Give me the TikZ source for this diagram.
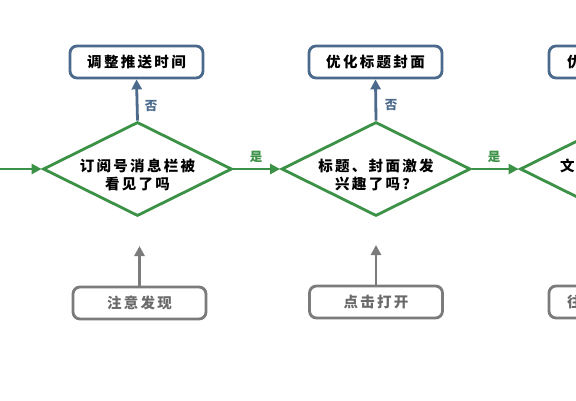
\documentclass[tikz,border=0pt]{standalone}
\usepackage{fontspec}
\newfontfamily\cjk{Noto Sans CJK SC}[LetterSpace=16]
\newfontfamily\cjklab{Noto Sans CJK SC}
\usetikzlibrary{shapes.geometric,arrows.meta}
\definecolor{bluec}{HTML}{4B6A8C}
\definecolor{greenc}{HTML}{3B9145}
\definecolor{grayc}{HTML}{7B7B7B}
\definecolor{graytext}{HTML}{6A6A6A}
\begin{document}
\begin{tikzpicture}[x=1pt,y=-1pt,
  topbox/.style={draw=bluec,line width=2.8pt,rounded corners=7pt,minimum width=133pt,minimum height=32pt,inner sep=0pt,font=\cjk\bfseries\fontsize{14.5}{17}\selectfont,text=black},
  botbox/.style={draw=grayc,line width=2.8pt,rounded corners=7pt,minimum width=133pt,minimum height=32pt,inner sep=0pt,font=\cjk\bfseries\fontsize{14.5}{17}\selectfont,text=graytext},
  dia/.style={draw=greenc,line width=2.8pt,diamond,minimum width=189pt,minimum height=94pt,inner sep=0pt},
  dtext/.style={align=center,font=\cjk\bfseries\fontsize{14.5}{18}\selectfont,text=black,inner sep=0pt},
  garrow/.style={draw=greenc,line width=2.8pt,-{Triangle[length=10pt,width=10pt]}},
  barrow/.style={draw=bluec,line width=2.8pt,-{Triangle[length=10pt,width=10pt]}},
  grarrow/.style={draw=grayc,line width=2.8pt,-{Triangle[length=10pt,width=10pt]}},
  blab/.style={font=\cjklab\bfseries\fontsize{12.5}{13}\selectfont,text=bluec,inner sep=0pt},
  glab/.style={font=\cjklab\bfseries\fontsize{12.5}{13}\selectfont,text=greenc,inner sep=0pt},
  parttext/.style={anchor=west,inner sep=0pt}
]
\useasboundingbox (0,0) rectangle (576,400);
\fill[white] (0,0) rectangle (576,400);
\clip (0,0) rectangle (576,400);

% column 1
\node[topbox] (b1) at (136.5,62) {调整推送时间};
\node[dia] (d1) at (137.5,169) {};
\node[dtext] (t1) at (137.5,175) {订阅号消息栏被\\看见了吗};
\node[botbox] (g1) at (139.5,303) {注意发现};
\coordinate (g1tip) at (139.5,246);

% column 2
\node[topbox] (b2) at (375.5,62) {优化标题封面};
\node[dia] (d2) at (376,169) {};
\node[dtext] (t2) at (376,175) {标题、封面激发\\兴趣了吗？};
\node[botbox] (g2) at (376,302) {点击打开};
\coordinate (g2tip) at (376,245);

% column 3 (cut off by the picture's edge)
\node[topbox] (b3) at (615.5,62) {};
\node[parttext,dtext] (t3b) at (567,62) {优};
\node[dia] (d3) at (614.5,169) {};
\node[parttext,dtext] (t3d) at (560,166) {文};
\node[botbox] (g3) at (615.5,302) {};
\node[parttext,dtext,text=graytext] (t3g) at (567,302) {往};
\coordinate (g3tip) at (615.5,245);

\coordinate (in) at (-5,169);

% connectors
\draw[garrow] (in) -- (d1.west);
\draw[garrow] (d1.east) -- (d2.west);
\draw[garrow] (d2.east) -- (d3.west);
\draw[barrow] (d1.north) -- (b1.south);
\draw[barrow] (d2.north) -- (b2.south);
\draw[grarrow] (g1.north) -- (g1tip);
\draw[grarrow] (g2.north) -- (g2tip);
\draw[grarrow] (g3.north) -- (g3tip);

% labels
\node[blab] (n1) at (151,106) {否};
\node[blab] (n2) at (391,105) {否};
\node[glab] (y1) at (256,157) {是};
\node[glab] (y2) at (494,157) {是};
\end{tikzpicture}
\end{document}
